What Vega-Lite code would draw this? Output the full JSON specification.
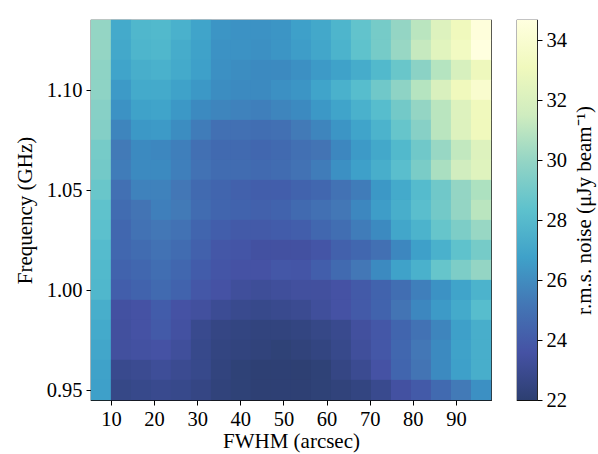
{"$schema":"https://vega.github.io/schema/vega-lite/v6.json","background":"white","padding":{"left":13,"top":19,"right":5,"bottom":5},"spacing":24,"config":{"view":{"stroke":"#111","strokeWidth":1.2},"font":"Liberation Serif","axis":{"grid":false,"domain":false,"tickColor":"black","tickSize":5,"tickWidth":1,"labelColor":"black","titleColor":"black","labelFont":"Liberation Serif","titleFont":"Liberation Serif","labelFontSize":20.5,"titleFontSize":21,"titleFontWeight":"normal","labelPadding":4}},"hconcat":[{"width":400,"height":380,"data":{"values":[
{"w":7.68,"f":1.13,"n":30.0},{"w":12.32,"f":1.13,"n":27.2},{"w":16.96,"f":1.13,"n":27.8},{"w":21.6,"f":1.13,"n":27.9},{"w":26.24,"f":1.13,"n":27.5},{"w":30.88,"f":1.13,"n":26.9},{"w":35.52,"f":1.13,"n":26.3},{"w":40.16,"f":1.13,"n":26.2},{"w":44.8,"f":1.13,"n":26.2},{"w":49.44,"f":1.13,"n":26.3},{"w":54.08,"f":1.13,"n":26.7},{"w":58.72,"f":1.13,"n":27.1},{"w":63.36,"f":1.13,"n":27.7},{"w":68,"f":1.13,"n":28.5},{"w":72.64,"f":1.13,"n":29.1},{"w":77.28,"f":1.13,"n":30.0},{"w":81.92,"f":1.13,"n":31.0},{"w":86.56,"f":1.13,"n":32.2},{"w":91.2,"f":1.13,"n":33.1},{"w":95.84,"f":1.13,"n":34.5},
{"w":7.68,"f":1.12,"n":30.0},{"w":12.32,"f":1.12,"n":27.1},{"w":16.96,"f":1.12,"n":27.7},{"w":21.6,"f":1.12,"n":27.8},{"w":26.24,"f":1.12,"n":27.3},{"w":30.88,"f":1.12,"n":26.8},{"w":35.52,"f":1.12,"n":26.2},{"w":40.16,"f":1.12,"n":26.2},{"w":44.8,"f":1.12,"n":26.1},{"w":49.44,"f":1.12,"n":26.3},{"w":54.08,"f":1.12,"n":26.6},{"w":58.72,"f":1.12,"n":27.0},{"w":63.36,"f":1.12,"n":27.6},{"w":68,"f":1.12,"n":28.4},{"w":72.64,"f":1.12,"n":29.1},{"w":77.28,"f":1.12,"n":30.1},{"w":81.92,"f":1.12,"n":31.3},{"w":86.56,"f":1.12,"n":32.4},{"w":91.2,"f":1.12,"n":33.3},{"w":95.84,"f":1.12,"n":34.67},
{"w":7.68,"f":1.11,"n":29.8},{"w":12.32,"f":1.11,"n":26.9},{"w":16.96,"f":1.11,"n":27.4},{"w":21.6,"f":1.11,"n":27.5},{"w":26.24,"f":1.11,"n":27.2},{"w":30.88,"f":1.11,"n":26.7},{"w":35.52,"f":1.11,"n":26.1},{"w":40.16,"f":1.11,"n":26.0},{"w":44.8,"f":1.11,"n":25.9},{"w":49.44,"f":1.11,"n":25.9},{"w":54.08,"f":1.11,"n":26.1},{"w":58.72,"f":1.11,"n":26.5},{"w":63.36,"f":1.11,"n":26.8},{"w":68,"f":1.11,"n":27.3},{"w":72.64,"f":1.11,"n":27.9},{"w":77.28,"f":1.11,"n":28.7},{"w":81.92,"f":1.11,"n":29.7},{"w":86.56,"f":1.11,"n":30.9},{"w":91.2,"f":1.11,"n":31.9},{"w":95.84,"f":1.11,"n":33.0},
{"w":7.68,"f":1.10,"n":29.8},{"w":12.32,"f":1.10,"n":26.5},{"w":16.96,"f":1.10,"n":27.2},{"w":21.6,"f":1.10,"n":27.2},{"w":26.24,"f":1.10,"n":26.8},{"w":30.88,"f":1.10,"n":26.4},{"w":35.52,"f":1.10,"n":26.0},{"w":40.16,"f":1.10,"n":25.9},{"w":44.8,"f":1.10,"n":25.9},{"w":49.44,"f":1.10,"n":26.1},{"w":54.08,"f":1.10,"n":26.3},{"w":58.72,"f":1.10,"n":26.9},{"w":63.36,"f":1.10,"n":27.5},{"w":68,"f":1.10,"n":28.1},{"w":72.64,"f":1.10,"n":28.9},{"w":77.28,"f":1.10,"n":29.8},{"w":81.92,"f":1.10,"n":30.9},{"w":86.56,"f":1.10,"n":32.0},{"w":91.2,"f":1.10,"n":33.1},{"w":95.84,"f":1.10,"n":33.9},
{"w":7.68,"f":1.09,"n":29.6},{"w":12.32,"f":1.09,"n":26.2},{"w":16.96,"f":1.09,"n":26.8},{"w":21.6,"f":1.09,"n":26.9},{"w":26.24,"f":1.09,"n":26.4},{"w":30.88,"f":1.09,"n":25.9},{"w":35.52,"f":1.09,"n":25.7},{"w":40.16,"f":1.09,"n":25.6},{"w":44.8,"f":1.09,"n":25.5},{"w":49.44,"f":1.09,"n":25.7},{"w":54.08,"f":1.09,"n":25.9},{"w":58.72,"f":1.09,"n":26.4},{"w":63.36,"f":1.09,"n":26.9},{"w":68,"f":1.09,"n":27.5},{"w":72.64,"f":1.09,"n":28.1},{"w":77.28,"f":1.09,"n":29.0},{"w":81.92,"f":1.09,"n":30.0},{"w":86.56,"f":1.09,"n":31.0},{"w":91.2,"f":1.09,"n":32.2},{"w":95.84,"f":1.09,"n":33.1},
{"w":7.68,"f":1.08,"n":29.5},{"w":12.32,"f":1.08,"n":25.7},{"w":16.96,"f":1.08,"n":26.4},{"w":21.6,"f":1.08,"n":26.5},{"w":26.24,"f":1.08,"n":26.0},{"w":30.88,"f":1.08,"n":25.4},{"w":35.52,"f":1.08,"n":24.9},{"w":40.16,"f":1.08,"n":24.9},{"w":44.8,"f":1.08,"n":24.8},{"w":49.44,"f":1.08,"n":24.9},{"w":54.08,"f":1.08,"n":25.3},{"w":58.72,"f":1.08,"n":25.7},{"w":63.36,"f":1.08,"n":26.3},{"w":68,"f":1.08,"n":26.9},{"w":72.64,"f":1.08,"n":27.6},{"w":77.28,"f":1.08,"n":28.6},{"w":81.92,"f":1.08,"n":29.6},{"w":86.56,"f":1.08,"n":31.0},{"w":91.2,"f":1.08,"n":32.2},{"w":95.84,"f":1.08,"n":33.1},
{"w":7.68,"f":1.07,"n":29.1},{"w":12.32,"f":1.07,"n":25.3},{"w":16.96,"f":1.07,"n":25.9},{"w":21.6,"f":1.07,"n":25.8},{"w":26.24,"f":1.07,"n":25.5},{"w":30.88,"f":1.07,"n":24.9},{"w":35.52,"f":1.07,"n":24.6},{"w":40.16,"f":1.07,"n":24.6},{"w":44.8,"f":1.07,"n":24.5},{"w":49.44,"f":1.07,"n":24.6},{"w":54.08,"f":1.07,"n":24.9},{"w":58.72,"f":1.07,"n":25.1},{"w":63.36,"f":1.07,"n":25.8},{"w":68,"f":1.07,"n":26.5},{"w":72.64,"f":1.07,"n":27.1},{"w":77.28,"f":1.07,"n":27.9},{"w":81.92,"f":1.07,"n":28.9},{"w":86.56,"f":1.07,"n":30.1},{"w":91.2,"f":1.07,"n":31.2},{"w":95.84,"f":1.07,"n":32.2},
{"w":7.68,"f":1.06,"n":29.0},{"w":12.32,"f":1.06,"n":25.4},{"w":16.96,"f":1.06,"n":25.9},{"w":21.6,"f":1.06,"n":25.9},{"w":26.24,"f":1.06,"n":25.5},{"w":30.88,"f":1.06,"n":25.0},{"w":35.52,"f":1.06,"n":24.7},{"w":40.16,"f":1.06,"n":24.7},{"w":44.8,"f":1.06,"n":24.6},{"w":49.44,"f":1.06,"n":24.7},{"w":54.08,"f":1.06,"n":25.0},{"w":58.72,"f":1.06,"n":25.4},{"w":63.36,"f":1.06,"n":26.1},{"w":68,"f":1.06,"n":26.7},{"w":72.64,"f":1.06,"n":27.4},{"w":77.28,"f":1.06,"n":28.2},{"w":81.92,"f":1.06,"n":29.2},{"w":86.56,"f":1.06,"n":30.6},{"w":91.2,"f":1.06,"n":31.6},{"w":95.84,"f":1.06,"n":32.3},
{"w":7.68,"f":1.05,"n":28.7},{"w":12.32,"f":1.05,"n":24.9},{"w":16.96,"f":1.05,"n":25.6},{"w":21.6,"f":1.05,"n":25.6},{"w":26.24,"f":1.05,"n":25.2},{"w":30.88,"f":1.05,"n":24.6},{"w":35.52,"f":1.05,"n":24.4},{"w":40.16,"f":1.05,"n":24.2},{"w":44.8,"f":1.05,"n":24.1},{"w":49.44,"f":1.05,"n":24.1},{"w":54.08,"f":1.05,"n":24.3},{"w":58.72,"f":1.05,"n":24.5},{"w":63.36,"f":1.05,"n":25.0},{"w":68,"f":1.05,"n":25.4},{"w":72.64,"f":1.05,"n":26.4},{"w":77.28,"f":1.05,"n":27.2},{"w":81.92,"f":1.05,"n":28.0},{"w":86.56,"f":1.05,"n":28.9},{"w":91.2,"f":1.05,"n":30.0},{"w":95.84,"f":1.05,"n":30.7},
{"w":7.68,"f":1.04,"n":28.4},{"w":12.32,"f":1.04,"n":24.7},{"w":16.96,"f":1.04,"n":25.1},{"w":21.6,"f":1.04,"n":25.5},{"w":26.24,"f":1.04,"n":25.3},{"w":30.88,"f":1.04,"n":24.7},{"w":35.52,"f":1.04,"n":24.4},{"w":40.16,"f":1.04,"n":24.3},{"w":44.8,"f":1.04,"n":24.2},{"w":49.44,"f":1.04,"n":24.3},{"w":54.08,"f":1.04,"n":24.6},{"w":58.72,"f":1.04,"n":24.9},{"w":63.36,"f":1.04,"n":25.2},{"w":68,"f":1.04,"n":25.8},{"w":72.64,"f":1.04,"n":26.6},{"w":77.28,"f":1.04,"n":27.4},{"w":81.92,"f":1.04,"n":28.2},{"w":86.56,"f":1.04,"n":29.0},{"w":91.2,"f":1.04,"n":30.0},{"w":95.84,"f":1.04,"n":31.0},
{"w":7.68,"f":1.03,"n":28.3},{"w":12.32,"f":1.03,"n":24.5},{"w":16.96,"f":1.03,"n":25.0},{"w":21.6,"f":1.03,"n":25.2},{"w":26.24,"f":1.03,"n":25.0},{"w":30.88,"f":1.03,"n":24.4},{"w":35.52,"f":1.03,"n":24.1},{"w":40.16,"f":1.03,"n":23.9},{"w":44.8,"f":1.03,"n":23.9},{"w":49.44,"f":1.03,"n":24.0},{"w":54.08,"f":1.03,"n":24.1},{"w":58.72,"f":1.03,"n":24.5},{"w":63.36,"f":1.03,"n":24.8},{"w":68,"f":1.03,"n":25.4},{"w":72.64,"f":1.03,"n":25.9},{"w":77.28,"f":1.03,"n":27.0},{"w":81.92,"f":1.03,"n":27.6},{"w":86.56,"f":1.03,"n":28.6},{"w":91.2,"f":1.03,"n":29.3},{"w":95.84,"f":1.03,"n":30.1},
{"w":7.68,"f":1.02,"n":28.0},{"w":12.32,"f":1.02,"n":24.5},{"w":16.96,"f":1.02,"n":24.7},{"w":21.6,"f":1.02,"n":25.0},{"w":26.24,"f":1.02,"n":24.7},{"w":30.88,"f":1.02,"n":24.2},{"w":35.52,"f":1.02,"n":23.8},{"w":40.16,"f":1.02,"n":23.7},{"w":44.8,"f":1.02,"n":23.5},{"w":49.44,"f":1.02,"n":23.5},{"w":54.08,"f":1.02,"n":23.5},{"w":58.72,"f":1.02,"n":23.7},{"w":63.36,"f":1.02,"n":24.2},{"w":68,"f":1.02,"n":24.5},{"w":72.64,"f":1.02,"n":24.9},{"w":77.28,"f":1.02,"n":25.8},{"w":81.92,"f":1.02,"n":26.7},{"w":86.56,"f":1.02,"n":27.5},{"w":91.2,"f":1.02,"n":28.4},{"w":95.84,"f":1.02,"n":29.1},
{"w":7.68,"f":1.01,"n":27.9},{"w":12.32,"f":1.01,"n":24.3},{"w":16.96,"f":1.01,"n":24.5},{"w":21.6,"f":1.01,"n":24.8},{"w":26.24,"f":1.01,"n":24.5},{"w":30.88,"f":1.01,"n":24.0},{"w":35.52,"f":1.01,"n":23.7},{"w":40.16,"f":1.01,"n":23.6},{"w":44.8,"f":1.01,"n":23.6},{"w":49.44,"f":1.01,"n":23.8},{"w":54.08,"f":1.01,"n":23.7},{"w":58.72,"f":1.01,"n":24.1},{"w":63.36,"f":1.01,"n":24.6},{"w":68,"f":1.01,"n":25.2},{"w":72.64,"f":1.01,"n":25.9},{"w":77.28,"f":1.01,"n":26.8},{"w":81.92,"f":1.01,"n":27.5},{"w":86.56,"f":1.01,"n":28.6},{"w":91.2,"f":1.01,"n":29.3},{"w":95.84,"f":1.01,"n":30.0},
{"w":7.68,"f":1.00,"n":27.8},{"w":12.32,"f":1.00,"n":24.1},{"w":16.96,"f":1.00,"n":24.3},{"w":21.6,"f":1.00,"n":24.6},{"w":26.24,"f":1.00,"n":24.3},{"w":30.88,"f":1.00,"n":23.8},{"w":35.52,"f":1.00,"n":23.6},{"w":40.16,"f":1.00,"n":23.3},{"w":44.8,"f":1.00,"n":23.2},{"w":49.44,"f":1.00,"n":23.3},{"w":54.08,"f":1.00,"n":23.4},{"w":58.72,"f":1.00,"n":23.4},{"w":63.36,"f":1.00,"n":23.6},{"w":68,"f":1.00,"n":23.9},{"w":72.64,"f":1.00,"n":24.3},{"w":77.28,"f":1.00,"n":24.8},{"w":81.92,"f":1.00,"n":25.5},{"w":86.56,"f":1.00,"n":26.2},{"w":91.2,"f":1.00,"n":26.9},{"w":95.84,"f":1.00,"n":27.6},
{"w":7.68,"f":0.99,"n":27.4},{"w":12.32,"f":0.99,"n":23.5},{"w":16.96,"f":0.99,"n":23.6},{"w":21.6,"f":0.99,"n":24.0},{"w":26.24,"f":0.99,"n":23.6},{"w":30.88,"f":0.99,"n":23.4},{"w":35.52,"f":0.99,"n":23.1},{"w":40.16,"f":0.99,"n":22.9},{"w":44.8,"f":0.99,"n":22.8},{"w":49.44,"f":0.99,"n":22.9},{"w":54.08,"f":0.99,"n":23.0},{"w":58.72,"f":0.99,"n":23.3},{"w":63.36,"f":0.99,"n":23.6},{"w":68,"f":0.99,"n":23.9},{"w":72.64,"f":0.99,"n":24.3},{"w":77.28,"f":0.99,"n":25.1},{"w":81.92,"f":0.99,"n":25.8},{"w":86.56,"f":0.99,"n":26.5},{"w":91.2,"f":0.99,"n":27.2},{"w":95.84,"f":0.99,"n":28.1},
{"w":7.68,"f":0.98,"n":27.2},{"w":12.32,"f":0.98,"n":23.4},{"w":16.96,"f":0.98,"n":23.6},{"w":21.6,"f":0.98,"n":23.9},{"w":26.24,"f":0.98,"n":23.5},{"w":30.88,"f":0.98,"n":22.9},{"w":35.52,"f":0.98,"n":22.6},{"w":40.16,"f":0.98,"n":22.5},{"w":44.8,"f":0.98,"n":22.4},{"w":49.44,"f":0.98,"n":22.4},{"w":54.08,"f":0.98,"n":22.5},{"w":58.72,"f":0.98,"n":22.7},{"w":63.36,"f":0.98,"n":22.9},{"w":68,"f":0.98,"n":23.4},{"w":72.64,"f":0.98,"n":23.8},{"w":77.28,"f":0.98,"n":24.4},{"w":81.92,"f":0.98,"n":25.0},{"w":86.56,"f":0.98,"n":25.7},{"w":91.2,"f":0.98,"n":26.7},{"w":95.84,"f":0.98,"n":27.4},
{"w":7.68,"f":0.97,"n":27.0},{"w":12.32,"f":0.97,"n":23.4},{"w":16.96,"f":0.97,"n":23.5},{"w":21.6,"f":0.97,"n":23.6},{"w":26.24,"f":0.97,"n":23.3},{"w":30.88,"f":0.97,"n":22.8},{"w":35.52,"f":0.97,"n":22.5},{"w":40.16,"f":0.97,"n":22.4},{"w":44.8,"f":0.97,"n":22.3},{"w":49.44,"f":0.97,"n":22.2},{"w":54.08,"f":0.97,"n":22.3},{"w":58.72,"f":0.97,"n":22.5},{"w":63.36,"f":0.97,"n":22.8},{"w":68,"f":0.97,"n":23.3},{"w":72.64,"f":0.97,"n":23.8},{"w":77.28,"f":0.97,"n":24.5},{"w":81.92,"f":0.97,"n":25.2},{"w":86.56,"f":0.97,"n":25.9},{"w":91.2,"f":0.97,"n":26.8},{"w":95.84,"f":0.97,"n":27.4},
{"w":7.68,"f":0.96,"n":26.8},{"w":12.32,"f":0.96,"n":22.9},{"w":16.96,"f":0.96,"n":23.0},{"w":21.6,"f":0.96,"n":23.2},{"w":26.24,"f":0.96,"n":23.0},{"w":30.88,"f":0.96,"n":22.8},{"w":35.52,"f":0.96,"n":22.4},{"w":40.16,"f":0.96,"n":22.2},{"w":44.8,"f":0.96,"n":22.1},{"w":49.44,"f":0.96,"n":22.1},{"w":54.08,"f":0.96,"n":22.05},{"w":58.72,"f":0.96,"n":22.2},{"w":63.36,"f":0.96,"n":22.6},{"w":68,"f":0.96,"n":23.0},{"w":72.64,"f":0.96,"n":23.6},{"w":77.28,"f":0.96,"n":24.4},{"w":81.92,"f":0.96,"n":25.1},{"w":86.56,"f":0.96,"n":25.9},{"w":91.2,"f":0.96,"n":26.7},{"w":95.84,"f":0.96,"n":27.4},
{"w":7.68,"f":0.95,"n":26.7},{"w":12.32,"f":0.95,"n":22.7},{"w":16.96,"f":0.95,"n":22.8},{"w":21.6,"f":0.95,"n":22.9},{"w":26.24,"f":0.95,"n":22.8},{"w":30.88,"f":0.95,"n":22.6},{"w":35.52,"f":0.95,"n":22.3},{"w":40.16,"f":0.95,"n":22.2},{"w":44.8,"f":0.95,"n":22.1},{"w":49.44,"f":0.95,"n":22.1},{"w":54.08,"f":0.95,"n":22.1},{"w":58.72,"f":0.95,"n":22.2},{"w":63.36,"f":0.95,"n":22.3},{"w":68,"f":0.95,"n":22.5},{"w":72.64,"f":0.95,"n":22.9},{"w":77.28,"f":0.95,"n":23.5},{"w":81.92,"f":0.95,"n":23.9},{"w":86.56,"f":0.95,"n":24.6},{"w":91.2,"f":0.95,"n":25.3},{"w":95.84,"f":0.95,"n":26.1}
]},"mark":{"type":"rect","width":20.3,"height":20.3},"encoding":{"x":{"field":"w","type":"quantitative","scale":{"domain":[5.36,98.14],"nice":false,"zero":false},"axis":{"values":[10,20,30,40,50,60,70,80,90],"title":"FWHM (arcsec)","titlePadding":1}},"y":{"field":"f","type":"quantitative","scale":{"domain":[0.945,1.135],"nice":false,"zero":false},"axis":{"values":[0.95,1.0,1.05,1.1],"format":".2f","title":"Frequency (GHz)","titlePadding":11}},"color":{"field":"n","type":"quantitative","legend":null,"scale":{"domain":[22,23.58,25.17,26.75,28.33,29.92,31.5,33.08,34.67],"range":["#2d3f71","#4552a4","#4376b5","#3fa1c9","#5dc1cd","#92d4c5","#cfecbf","#f0f9bd","#ffffdf"]}}}},{"width":20,"height":380,"data":{"values":[{"lo":22,"hi":34.67}]},"mark":{"type":"rect","fill":{"gradient":"linear","x1":0,"y1":1,"x2":0,"y2":0,"stops":[{"offset":0,"color":"#2d3f71"},{"offset":0.125,"color":"#4552a4"},{"offset":0.25,"color":"#4376b5"},{"offset":0.375,"color":"#3fa1c9"},{"offset":0.5,"color":"#5dc1cd"},{"offset":0.625,"color":"#92d4c5"},{"offset":0.75,"color":"#cfecbf"},{"offset":0.875,"color":"#f0f9bd"},{"offset":1,"color":"#ffffdf"}]}},"encoding":{"y":{"field":"lo","type":"quantitative","scale":{"domain":[22,34.67],"nice":false,"zero":false},"axis":{"orient":"right","values":[22,24,26,28,30,32,34],"title":"r.m.s. noise (μJy beam⁻¹)","titleAngle":270,"titlePadding":28}},"y2":{"field":"hi"}}}]}
